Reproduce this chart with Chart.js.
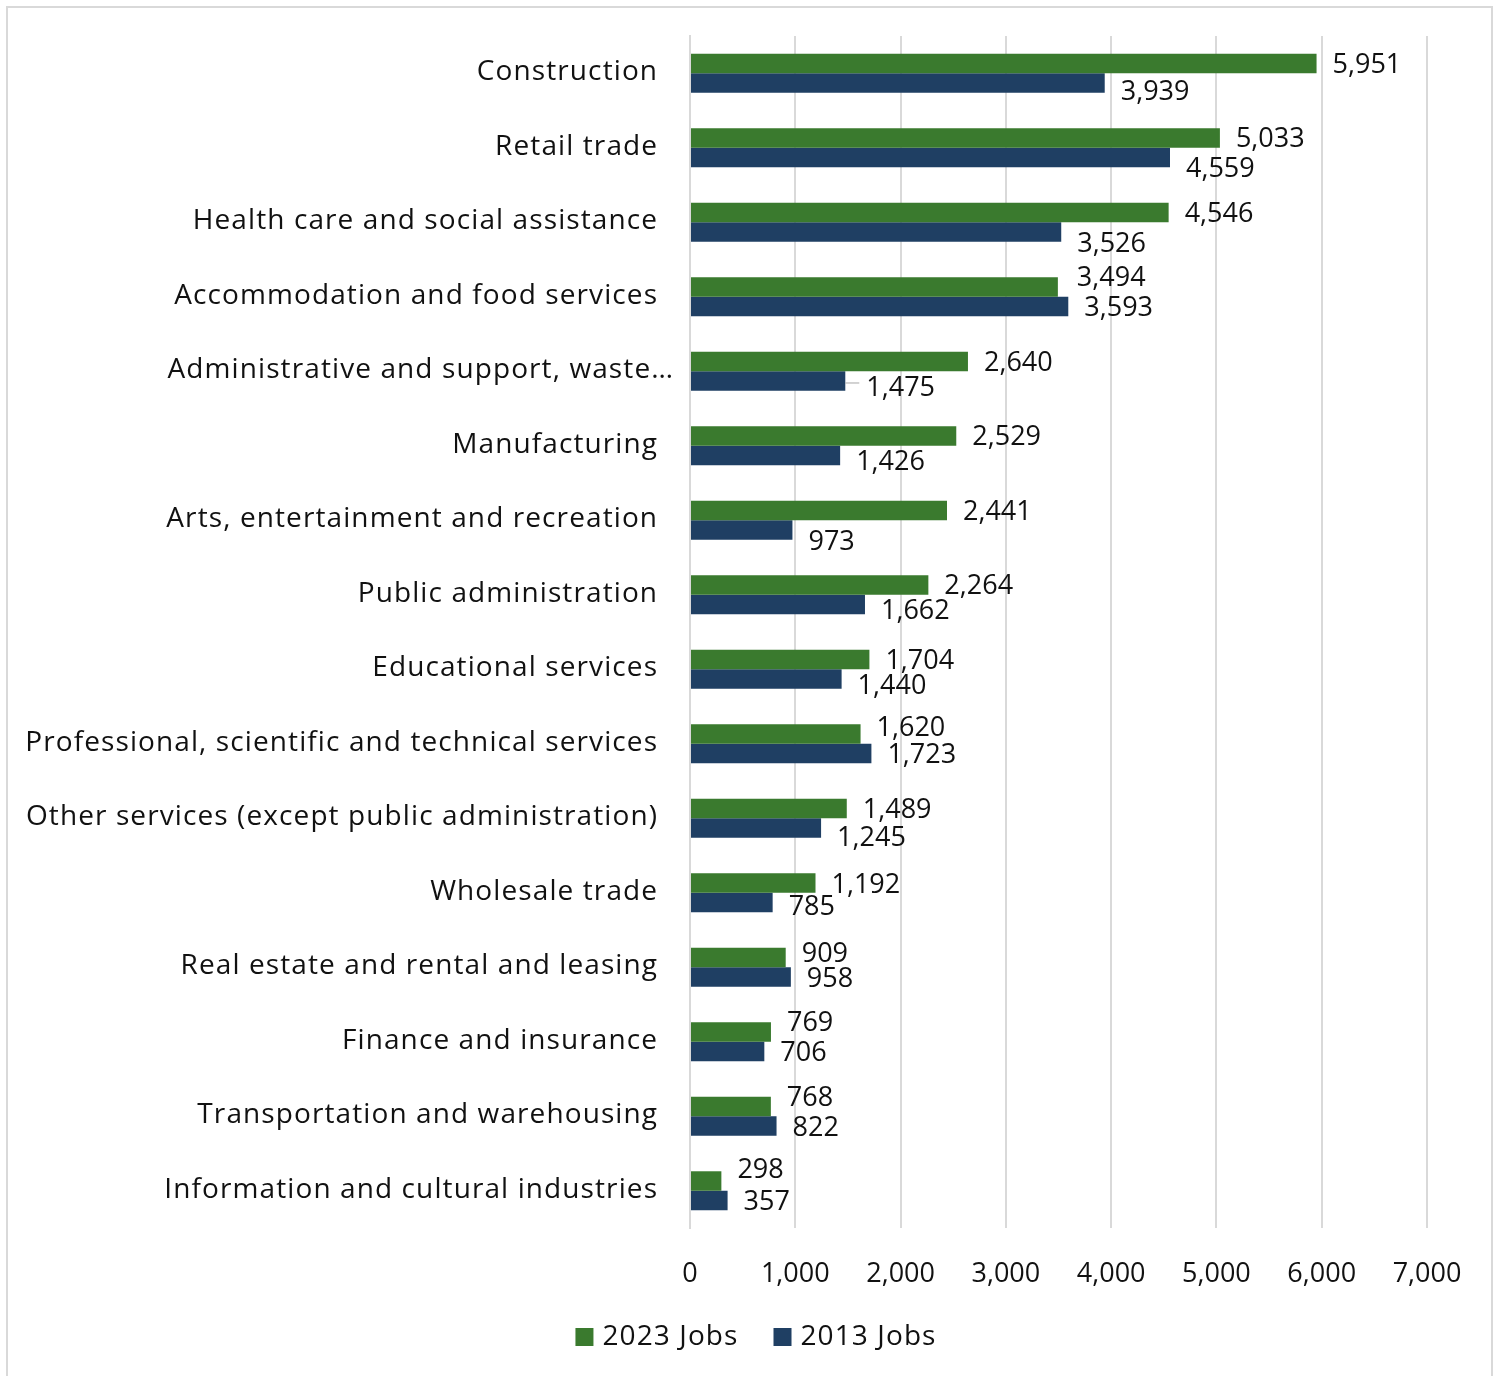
<!DOCTYPE html>
<html>
<head>
<meta charset="utf-8">
<script src="https://cdn.jsdelivr.net/npm/chart.js@4.4.1/dist/chart.umd.min.js"></script>
<style>
  html, body { margin: 0; padding: 0; background: #fff; }
  #frame { position: absolute; left: 6px; top: 6px; width: 1487px; height: 1400px; border: 2px solid #D9D9D9; box-sizing: border-box; }
  #wrap { position: absolute; left: 0; top: 0; width: 1501px; height: 1376px; }
</style>
</head>
<body>
<div id="frame"></div>
<div id="wrap"><canvas id="c" width="1501" height="1376"></canvas></div>
<script>
const categories = [
  "Construction",
  "Retail trade",
  "Health care and social assistance",
  "Accommodation and food services",
  "Administrative and support, waste…",
  "Manufacturing",
  "Arts, entertainment and recreation",
  "Public administration",
  "Educational services",
  "Professional, scientific and technical services",
  "Other services (except public administration)",
  "Wholesale trade",
  "Real estate and rental and leasing",
  "Finance and insurance",
  "Transportation and warehousing",
  "Information and cultural industries"
];
const jobs2023 = [5951, 5033, 4546, 3494, 2640, 2529, 2441, 2264, 1704, 1620, 1489, 1192, 909, 769, 768, 298];
const jobs2013 = [3939, 4559, 3526, 3593, 1475, 1426, 973, 1662, 1440, 1723, 1245, 785, 958, 706, 822, 357];
const seriesNames = ["2023 Jobs", "2013 Jobs"];
const xTicks = [0, 1000, 2000, 3000, 4000, 5000, 6000, 7000];

// label placement tweaks (pixels, relative to bar centre / bar end)
const labelDy2023 = [1.5, 1, 1.5, -9, 1.5, 1, 1.5, 1, 1.5, -6, 1.5, 2, -3.5, -9, -8.5, -11];
const labelDy2013 = [9, 11.5, 12, 1.5, 7, 6.5, 12, 6.5, 7, 1.5, 10, 4.5, 2, 1.5, 2, 1.5];
const labelDx2023 = [16, 16, 16, 19, 16, 16, 16, 16, 16, 16, 16, 16, 16, 16, 16, 16];
const labelDx2013 = [16, 16, 16, 16, 21, 16, 16, 16, 16, 16, 16, 16, 16, 16, 16, 16];
const leader2013 = [false, false, false, false, true, false, false, false, false, false, false, false, false, false, false, false];
const catLabelDx = [0, 0, 0, 0, 16, 0, 0, 0, 0, 0, 0, 0, 0, 0, 0, 0];

const GREEN = '#3A7A2E';
const BLUE = '#1F3F63';
const FONT = "'Open Sans', 'Liberation Sans', sans-serif";
const TXT = '#111111';

const catLabelPlugin = {
  id: 'catLabels',
  afterDraw(chart) {
    const ctx = chart.ctx;
    const ys = chart.scales.y;
    ctx.save();
    ctx.font = '28px ' + FONT;
    ctx.letterSpacing = '1.1px';
    ctx.fillStyle = TXT;
    ctx.textAlign = 'right';
    ctx.textBaseline = 'middle';
    categories.forEach((c, i) => {
      const y = ys.getPixelForValue(i);
      const xr = ys.right - 33 + catLabelDx[i];
      ctx.fillText(c, xr + 1.1, y - 1);
    });
    ctx.restore();
  }
};

const labelPlugin = {
  id: 'barLabels',
  afterDatasetsDraw(chart) {
    const ctx = chart.ctx;
    ctx.save();
    ctx.font = '27px ' + FONT;
    ctx.fillStyle = TXT;
    ctx.textAlign = 'left';
    ctx.textBaseline = 'middle';
    chart.data.datasets.forEach((ds, di) => {
      const meta = chart.getDatasetMeta(di);
      const dys = di === 0 ? labelDy2023 : labelDy2013;
      const dxs = di === 0 ? labelDx2023 : labelDx2013;
      meta.data.forEach((bar, i) => {
        const v = ds.data[i];
        const txt = v.toLocaleString('en-US');
        const x = bar.x + dxs[i];
        const y = bar.y + dys[i];
        if (di === 1 && leader2013[i]) {
          ctx.save();
          ctx.strokeStyle = '#A6A6A6';
          ctx.lineWidth = 1;
          ctx.beginPath();
          ctx.moveTo(bar.x, bar.y + 2);
          ctx.lineTo(x - 7, bar.y + 2);
          ctx.stroke();
          ctx.restore();
        }
        ctx.fillText(txt, x, y);
      });
    });
    ctx.restore();
  }
};

const legendPlugin = {
  id: 'customLegend',
  afterDraw(chart) {
    const ctx = chart.ctx;
    ctx.save();
    ctx.font = '28px ' + FONT;
    ctx.letterSpacing = '1.1px';
    ctx.textBaseline = 'middle';
    ctx.textAlign = 'left';
    const box = 18, gapBox = 9, gapItem = 35;
    const items = chart.data.datasets.map(d => ({ label: d.label, color: d.backgroundColor, w: ctx.measureText(d.label).width }));
    let total = 0;
    items.forEach((it, k) => { total += box + gapBox + it.w + (k < items.length - 1 ? gapItem : 0); });
    let x = 756 - total / 2;
    const y = 1337;
    items.forEach(it => {
      ctx.fillStyle = it.color;
      ctx.fillRect(x, y - box / 2, box, box);
      x += box + gapBox;
      ctx.fillStyle = TXT;
      ctx.fillText(it.label, x, y);
      x += it.w + gapItem;
    });
    ctx.restore();
  }
};

new Chart(document.getElementById('c'), {
  type: 'bar',
  data: {
    labels: categories,
    datasets: [
      { label: seriesNames[0], data: jobs2023, backgroundColor: GREEN, borderWidth: 0, barPercentage: 1.0, categoryPercentage: 0.523 },
      { label: seriesNames[1], data: jobs2013, backgroundColor: BLUE, borderWidth: 0, barPercentage: 1.0, categoryPercentage: 0.523 }
    ]
  },
  options: {
    indexAxis: 'y',
    responsive: false,
    animation: false,
    layout: { padding: { top: 36, right: 74, bottom: 0, left: 0 } },
    plugins: {
      legend: { display: false },
      tooltip: { enabled: false }
    },
    scales: {
      x: {
        min: 0, max: 7000,
        afterBuildTicks(scale) { scale.ticks = xTicks.map(v => ({ value: v })); },
        grid: { color: '#D9D9D9', lineWidth: 2, drawTicks: false },
        border: { display: false },
        ticks: {
          color: TXT,
          font: { family: FONT, size: 27 },
          padding: 30,
          maxRotation: 0,
          callback: v => Number(v).toLocaleString('en-US')
        },
        afterFit(scale) { scale.height = 1376 - 1228; }
      },
      y: {
        grid: { display: false, drawTicks: false },
        border: { display: true, color: '#D9D9D9', width: 2 },
        ticks: { display: false },
        afterFit(scale) { scale.width = 690; }
      }
    }
  },
  plugins: [labelPlugin, catLabelPlugin, legendPlugin]
});
</script>
</body>
</html>
